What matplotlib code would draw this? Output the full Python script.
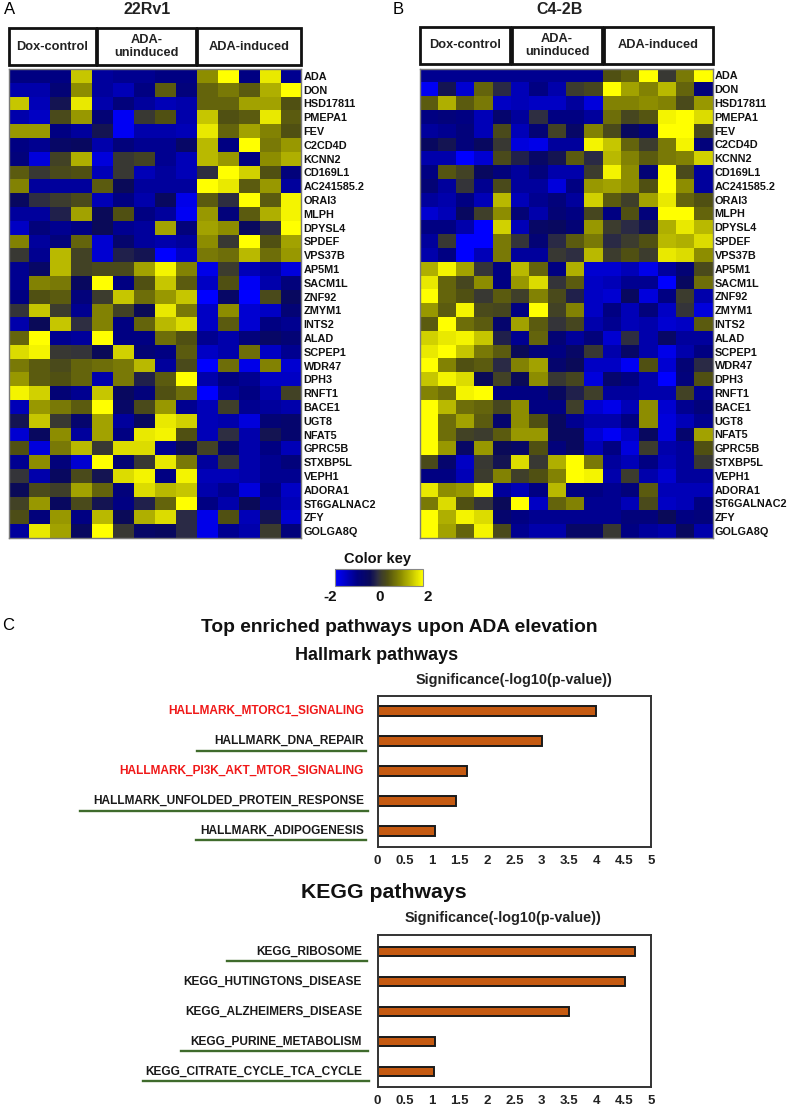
import numpy as np
import matplotlib
matplotlib.use("Agg")
import matplotlib.pyplot as plt
from matplotlib.colors import LinearSegmentedColormap, Normalize
from matplotlib.cm import ScalarMappable
from matplotlib.patches import Rectangle
from matplotlib.lines import Line2D

plt.rcParams['font.family'] = ['Liberation Sans', 'DejaVu Sans']

genes = ["ADA","DON","HSD17811","PMEPA1","FEV","C2CD4D","KCNN2","CD169L1","AC241585.2","ORAI3","MLPH","DPYSL4","SPDEF","VPS37B",
         "AP5M1","SACM1L","ZNF92","ZMYM1","INTS2","ALAD","SCPEP1","WDR47","DPH3","RNFT1","BACE1","UGT8","NFAT5","GPRC5B",
         "STXBP5L","VEPH1","ADORA1","ST6GALNAC2","ZFY","GOLGA8Q"]

rv1_values = [
[-1,-1,-1,1.5,-1.2,-1.1,-1.1,-1,-1,1.0,2,-1,1.8,-1.1],
[-1.3,-1.3,-0.8,1.0,-1.2,-1.4,-1,0.5,-0.9,0.6,0.8,0.5,1.3,2],
[1.5,-1.4,-0.3,1.8,-1.3,-0.9,-1.2,-1.4,-1.3,0.6,0.6,1.2,1.2,0.4],
[-1.3,-1.5,0.3,1.1,-0.8,-1.9,0.05,0.4,-1.3,1.5,0.4,0.5,1.8,0.5],
[1.1,1.1,-1,-1.2,-0.3,-1.9,-1.3,-1.3,-1.4,1.8,0.6,1.2,0.9,0.4],
[-1,-1.1,-0.6,-0.5,-1.3,-0.9,-1.1,-1.1,-0.6,1.4,-1,2,0.8,1.1],
[-0.9,-1.7,0.2,1.3,-1.7,0.05,0.2,-1.1,-1.4,1.4,1.1,-1,1.0,1.3],
[0.5,0.05,0.3,0.4,-1.4,0.05,-1.4,-1.2,-1.4,-0.05,2,1.6,0.4,-0.9],
[0.9,-1.2,-1.2,-1.2,0.5,-0.4,-1.2,-1.2,-1.2,2,1.8,0.5,1.1,-1.2],
[-0.5,-0.05,0.1,0.3,-1.4,-1,-1.3,-0.5,-1.8,0.5,-0.05,2,0.5,1.9],
[-1.2,-1.2,-0.2,1.2,-0.4,0.4,-1,-1.2,-1.9,1.1,-0.9,0.5,1.3,1.9],
[-1.5,-0.9,-1.1,-1,-0.4,-1.1,-1.2,1.2,-0.9,1.2,1.0,-0.5,-0.1,2],
[0.9,-1.2,-0.9,0.6,-1.6,-0.7,-1.2,-1.3,-1.2,1.0,0.05,2,0.4,1.2],
[0.05,-1.1,1.4,0.2,-1.6,-0.2,-0.3,-2,-1.5,0.8,0.7,1.4,0.7,1.1],
[-1.1,-0.6,1.4,0.2,0.3,0.3,1.2,1.9,0.9,-1.8,0.1,-1.4,-1.2,-1.7],
[-1.1,0.9,0.8,-0.5,2,-1,0.4,1.5,0.5,-1.5,0.4,-1.9,-1.3,-0.9],
[-1,0.4,0.5,-0.9,0.1,1.5,0.7,1.1,1.5,-2,-0.6,-2,0.3,-0.5],
[0.0,1.5,0.1,-1.1,0.9,0.2,-0.4,1.8,0.8,-1.5,1.0,-1.6,-1.5,-0.8],
[-1.3,-0.4,1.5,-0.05,0.9,-1,0.6,1.4,1.7,-1.5,0.5,-1.6,-1.0,-1.1],
[0.6,2,-1.1,-1.2,2,-1,-1,0.7,0.4,-1.1,-1.3,-0.9,-0.6,-0.8],
[1.7,1.9,0.05,0,-0.4,1.6,-0.8,-1,0.5,-1.5,-1.3,0.7,-1.5,-1.1],
[0.8,0.5,0.3,0.6,0.7,0.8,1.4,-1.2,0.3,-2,0.7,-1.8,0.9,-1.6],
[1.1,0.5,0.4,0.6,-1.3,0.8,-0.2,0.5,2,-1.3,-1,-1.1,-1.5,-1.5],
[1.9,1.6,-0.8,-1.1,1.5,-0.5,-0.9,0.4,0.7,-2,-1.2,-1,-1.3,0.2],
[-1.4,1.1,0.8,0.5,2,-0.6,0.3,1.1,-1.1,-1.4,0.15,-1.1,-1.2,-1.3],
[-0.3,1.5,0.05,-0.7,1.2,-1.2,-0.5,1.8,1.6,-1.4,-1.3,-1.7,-0.8,-0.7],
[-1.6,-0.5,1.0,-1.2,1.2,-1,1.8,1.9,0.4,-1.4,-0.05,-1.3,-0.3,-0.7],
[0.4,-1.7,0.8,1.4,0.05,1.7,1.7,-1.1,-0.4,0.2,-0.7,-1.3,-1,-1.4],
[-1.1,1.0,-0.9,-1.6,2,-0.8,0.05,1.8,0.8,-1.2,0.0,-1.3,-1.1,-0.9],
[0,-1.3,-0.5,0.3,-0.3,1.7,1.9,-1,1.9,-1.4,-1.4,-1.3,-1.1,-1.1],
[-0.4,0.3,0.15,1.2,0.6,-0.9,1.7,1.4,1.5,-1.3,-1.1,-1.7,-1,-1.5],
[0.2,1.1,-0.5,0.3,-0.3,-1,-0.2,0.6,2,-1,-1.3,-0.4,-1.1,-1.4],
[0.35,-0.9,1.1,-1,1.4,-0.4,1.3,1.7,-0.1,-1.8,0.4,-1.4,-0.3,-1.6],
[-1.2,1.8,1.2,-0.5,2,0.05,-0.6,-0.5,-0.1,-1.8,-1.1,-1.3,0.1,-0.9],
]

c42b_values = [
[-1.1,-1.1,-1.1,-1.1,-1.1,-1.1,-1.1,-1.1,-1.1,-1.1,0.4,0.6,2,0.05,0.8,2],
[-1.9,-0.3,-1.6,0.6,-0.1,-1.4,-1,-1.3,0.1,0.25,2,1.2,0.9,1.4,0.6,-0.9],
[0.5,1.3,0.5,0.8,-1.5,-1.4,-1.5,-1.5,-1.2,-1.7,0.9,0.9,1.0,0.9,0.3,1.1],
[-1,-0.9,-1,-1.4,-0.7,-1.2,-0.05,-1,-1,-1.2,0.7,0.25,0.45,1.9,2,1.7],
[-1.2,-1.1,-0.9,-1.4,0.3,-1.4,-0.8,0.2,-0.6,0.9,0.3,-0.5,-0.9,2,2,0.3],
[-0.5,-0.3,-0.9,-0.5,0.05,-1.7,-1.8,-1.2,-1.2,1.9,1.5,0.6,0.1,0.8,1.9,-0.9],
[-1.3,-1.3,-2,-1.6,0.3,-0.2,-0.6,-0.3,0.5,-0.1,1.4,0.9,0.5,0.8,0.9,1.6],
[-1,0.45,0.2,-0.5,-0.9,-1.2,-0.9,-1.3,-1.3,0.1,1.9,1,-0.8,2,0.3,-1.2],
[-0.8,-1.2,0.0,-1.1,0.3,-1.2,-1.2,-1.7,-1,1.1,1.2,1.0,0.4,2,1.0,-1.2],
[-1.2,-1.3,-1.0,-1.4,1.4,-1.4,-1.1,-0.9,-1.2,1.6,0.5,0.15,1.2,1.8,0.6,0.4],
[-1.6,-1.4,-0.5,0.15,1.0,-0.8,-1.3,-0.8,-1,0.25,-1,0.4,-0.9,2,2,0.6],
[-1,-1,-1.3,-2,1.6,-1.4,-0.6,-0.5,-0.8,1.1,0.1,-0.1,-0.3,1.3,1.8,1.4],
[-1.2,0.05,-2,-2,0.8,0,-0.8,-0.1,0.5,0.8,-0.1,0.1,0.4,1.4,1.3,1.7],
[-1.3,-1,-2,-1.4,0.8,-1.2,-1.2,0.05,-0.05,1.4,0.1,0.4,0.1,1.8,1.7,1.0],
[1.3,1.9,1.2,0,-1,1.4,0.6,-1,1.3,-1.6,-1.6,-1.4,-1.8,-1.2,-0.8,0.3],
[1.8,0.6,0.25,1.0,-1,1.1,1.7,0,0.5,-1.5,-1.4,-1.1,-1.1,-2,-0.5,0.7],
[2,0.6,0.4,0.05,0.5,0.15,0.9,0.3,-0.2,-1.5,-1.6,-0.5,-1.7,-1,0.1,-1.3],
[1.1,0.5,1.9,0.3,0.25,-1,2,0.2,0.9,-1.5,-1,-1.4,-0.9,-1.5,0,-1.7],
[0.5,2,0.7,0.5,-0.7,1.2,0.5,0,0.25,-1.3,-1.1,-1.4,-1.3,-1.6,-1.5,0.5],
[1.6,1.8,1.9,1.5,-0.2,-1.1,0.6,-0.8,-1.2,-0.9,-1.6,-0.05,-1.3,-0.6,-1.2,-1.2],
[1.8,2,1.5,0.8,0.5,-0.4,-0.9,-1,-0.6,0.05,-1.3,-0.6,-1.3,-1.8,-1.3,-1],
[2,0.9,0.4,0.5,-0.1,0.9,1.2,-0.7,-0.4,-1.5,-1.5,-1.9,0.4,-1.6,-0.8,-0.1],
[1.5,1.9,1.7,-0.4,0.2,-0.4,1.0,0.05,0.25,-1.7,-0.7,-1,-1.3,-2,-0.9,0.4],
[0.9,0.7,1.9,2,-1,-1,-1,-0.5,-0.2,0.15,-1.2,-1.2,-1.3,-1.3,0.2,-1.1],
[2,1.4,0.7,0.6,0.25,1.0,-1,-1,0.15,-1.6,-1.8,-1.4,1.0,-1.6,-1.1,-0.9],
[2,0.7,1.2,0.5,-0.7,1.0,0.4,-0.5,-1.1,-1.3,-1.3,-1,1.0,-1.7,-1.4,-1.1],
[2,0.7,0.2,0.1,0.5,1.1,1.1,-0.5,-0.5,-1.6,-1.9,-1.5,-0.5,-1.7,-0.7,1.2],
[2,1.1,-0.6,1.1,-0.4,-0.6,0.4,-0.9,-0.5,-1.4,-1,-1.7,0.1,-1.3,-1.2,0.4],
[0.3,-0.7,-1.5,0.05,-0.3,1.7,0.05,1.3,2,0.8,-1.2,-1.4,-1,-1.4,-1.2,0.05],
[-1,-1,-1.4,0.1,0.9,0.15,0.4,0.9,2,1.9,-1.3,0.1,-1.3,-1.6,-1.2,-1.2],
[1.8,1,1.1,1.9,-1.2,-1.4,-1,1.4,-1,-1,-1.1,-0.9,0.5,-1.4,-1.4,-1.4],
[0.8,1.7,0.4,0,-0.4,2,-1.5,0.6,0.9,-1.1,-1.1,-1.4,0.3,-1.5,-1.4,-1],
[2,1.3,1.9,1.7,-0.7,-1,-1.1,-1.1,-1.1,-1.1,-1.1,-0.9,-0.9,-0.4,-1,-0.9],
[2,1.2,0.6,1.9,0.3,-1.1,-1.3,-1.3,-0.6,-0.6,0.05,-1,-1.2,-1.3,-0.5,-1.3],
]

hallmark_terms = ["HALLMARK_MTORC1_SIGNALING","HALLMARK_DNA_REPAIR","HALLMARK_PI3K_AKT_MTOR_SIGNALING",
                  "HALLMARK_UNFOLDED_PROTEIN_RESPONSE","HALLMARK_ADIPOGENESIS"]
hallmark_values = [4.0, 3.0, 1.64, 1.43, 1.06]
hallmark_colors = ["#f01818","#1a1a1a","#f01818","#1a1a1a","#1a1a1a"]
kegg_terms = ["KEGG_RIBOSOME","KEGG_HUTINGTONS_DISEASE","KEGG_ALZHEIMERS_DISEASE","KEGG_PURINE_METABOLISM","KEGG_CITRATE_CYCLE_TCA_CYCLE"]
kegg_values = [4.7, 4.53, 3.5, 1.06, 1.04]
xticks = [0,0.5,1,1.5,2,2.5,3,3.5,4,4.5,5]
xticklabels = ["0","0.5","1","1.5","2","2.5","3","3.5","4","4.5","5"]

W, H = 791, 1109
fig = plt.figure(figsize=(W/100, H/100), dpi=100, facecolor="white")

def fx(x): return x / W
def fy(y): return 1 - y / H
def axpx(x0, y0, x1, y1):
    return fig.add_axes([fx(x0), fy(y1), (x1-x0)/W, (y1-y0)/H])
def txt(x, y, s, **kw):
    kw.setdefault("ha", "center"); kw.setdefault("va", "center"); kw.setdefault("fontweight", "bold")
    return fig.text(fx(x), fy(y), s, **kw)

cmap = LinearSegmentedColormap.from_list("key", [
    (0.0, "#0000ff"), (0.125, "#0000c4"), (0.25, "#000082"), (0.40, "#0a0a58"), (0.48, "#2c2c44"), (0.52, "#3a3a30"),
    (0.60, "#505012"), (0.75, "#8c8c00"), (0.875, "#c4c400"), (1.0, "#ffff00")])
norm = Normalize(-2, 2)

def heat(vals, x0, y0, x1, y1):
    ax = axpx(x0, y0, x1, y1)
    ax.pcolormesh(np.array(vals), cmap=cmap, norm=norm)
    ax.set_ylim(len(vals), 0)
    ax.set_xticks([])
    ax.yaxis.tick_right()
    ax.set_yticks(np.arange(len(vals)) + 0.5, genes, fontsize=7.8, fontweight="bold", color="#111111")
    ax.tick_params(axis="y", length=0, pad=1.5)
    for s in ax.spines.values():
        s.set_linewidth(1.0); s.set_color("#7a7a7a")
    return ax

heat(rv1_values, 8.5, 69, 301.5, 538)
heat(c42b_values, 419.5, 68.5, 712.5, 538)

def header(x0, x1, y0, y1, s):
    fig.add_artist(Rectangle((fx(x0), fy(y1)), (x1-x0)/W, (y1-y0)/H, transform=fig.transFigure,
                             fc="white", ec="#111111", lw=2.0))
    txt((x0+x1)/2, (y0+y1)/2, s, fontsize=9.2, color="#222222", linespacing=1.05)

header(9, 96, 28, 65, "Dox-control")
header(97, 196, 28, 65, "ADA-\nuninduced")
header(197, 301, 28, 65, "ADA-induced")
header(420, 510, 27, 64, "Dox-control")
header(512, 602, 27, 64, "ADA-\nuninduced")
header(604, 713, 27, 64, "ADA-induced")

txt(10, 10, "A", fontweight="normal", fontsize=12)
txt(398, 10, "B", fontweight="normal", fontsize=12)
txt(8, 625, "C", fontweight="normal", fontsize=12)
txt(147, 10, "22Rv1", fontsize=11.5, color="#222222")
txt(560, 10, "C4-2B", fontsize=11.5, color="#222222")

cax = axpx(335, 569, 423, 585.5)
cb = fig.colorbar(ScalarMappable(norm=norm, cmap=cmap), cax=cax, orientation="horizontal")
cb.set_ticks([])
cb.outline.set_edgecolor("#888888")
key_labels = [(330, "-2"), (379.5, "0"), (427.5, "2")]
for kx, ks in key_labels:
    txt(kx, 597, ks, fontsize=11, color="#111111")
txt(377, 559, "Color key", fontsize=10.5, color="#111111")

txt(399, 627, "Top enriched pathways upon ADA elevation", fontsize=13.8, color="#111111")
txt(377, 655, "Hallmark pathways", fontsize=13, color="#111111")
txt(514, 680, "Significance(-log10(p-value))", fontsize=10.4, color="#222222")
txt(383.5, 893, "KEGG pathways", fontsize=15.3, color="#111111")
txt(503, 918, "Significance(-log10(p-value))", fontsize=10.4, color="#222222")

def bars(terms, values, colors, x0, y0, x1, y1, first_bar, label_x, under):
    ax = axpx(x0, y0, x1, y1)
    y = np.arange(len(values))
    step = 30.0
    ax.barh(y, values, height=0.32, color="#c55a11", edgecolor="#1a1a1a", linewidth=1.4)
    ax.set_xlim(0, 5.0)
    ax.set_ylim((y1 - first_bar) / step, -(first_bar - y0) / step)
    ax.set_yticks([])
    ax.set_xticks(xticks, xticklabels, fontsize=9.5, fontweight="bold", color="#222222")
    ax.tick_params(axis="x", length=0, pad=6)
    for s in ax.spines.values():
        s.set_linewidth(1.4); s.set_color("#333333")
    for i, (t, c) in enumerate(zip(terms, colors)):
        txt(label_x, first_bar + i * step, t, ha="right", fontsize=8.6, color=c)
    for xa, xb, py in under:
        fig.add_artist(Line2D([fx(xa), fx(xb)], [fy(py), fy(py)], color="#3f6b2c", lw=1.7))

bars(hallmark_terms, hallmark_values, hallmark_colors, 377.5, 696, 651, 847, 710.8, 364,
     [(197, 366, 751), (80, 368, 811), (196, 366, 840)])
bars(kegg_terms, kegg_values, ["#1a1a1a"]*5, 377.5, 934.5, 651, 1087, 951.5, 362,
     [(227, 367, 961), (181, 368, 1051), (143, 369, 1081)])

fig.savefig("out.png", dpi=100)
